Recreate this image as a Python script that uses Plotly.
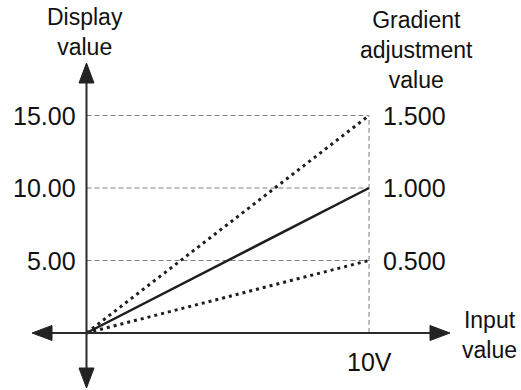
import plotly.graph_objects as go

# ---- data ----
input_max = 10
display_values = [15.0, 10.0, 5.0]
gradient_tick_labels = ["1.500", "1.000", "0.500"]
display_tick_labels = ["15.00", "10.00", "5.00"]
line_dashes = ["3px,4px", "solid", "3px,4px"]
line_widths = [3, 2.5, 3]
x_tick_label = "10V"

# ---- geometry ----
W, H = 521, 390
X0_PX, Y0_PX = 86.5, 333
PX_X = 28.25   # pixels per input unit
PX_Y = 14.5    # pixels per display unit
x_range = [-X0_PX / PX_X, (W - X0_PX) / PX_X]
y_range = [-(H - Y0_PX) / PX_Y, Y0_PX / PX_Y]

def dx(px):
    return px / PX_X

def dy(px):
    return px / PX_Y

FONT = "Liberation Sans, Arial, sans-serif"
TXT = "#111111"
AX = "#2a2a2a"

fig = go.Figure()

for v, d, w in zip(display_values, line_dashes, line_widths):
    fig.add_trace(go.Scatter(x=[0, input_max], y=[0, v], mode="lines",
                             line=dict(color="#1e1e1e", width=w, dash=d),
                             hoverinfo="skip"))

shapes = []
for v in display_values:
    shapes.append(dict(type="line", x0=0, x1=input_max, y0=v, y1=v,
                       line=dict(color="#808080", width=1, dash="5px,3px"), layer="below"))
shapes.append(dict(type="line", x0=input_max, x1=input_max, y0=0, y1=max(display_values),
                   line=dict(color="#808080", width=1, dash="5px,3px"), layer="below"))

# axis lines (reference pixel extents)
x_left_tip, x_right_tip = -dx(X0_PX - 32), dx(450 - X0_PX)
y_top_tip, y_bot_tip = dy(Y0_PX - 63), -dy(388 - Y0_PX)
shapes.append(dict(type="line", x0=x_left_tip + dx(10), x1=x_right_tip - dx(10), y0=0, y1=0,
                   line=dict(color=AX, width=2)))
shapes.append(dict(type="line", x0=0, x1=0, y0=y_bot_tip + dy(10), y1=y_top_tip - dy(10),
                   line=dict(color=AX, width=2)))

AL, AW = 20, 7.5
def tri(pts):
    return "M " + " L ".join(f"{x},{y}" for x, y in pts) + " Z"

arrows = [
    [(x_right_tip, 0), (x_right_tip - dx(AL), dy(AW)), (x_right_tip - dx(AL), -dy(AW))],
    [(x_left_tip, 0), (x_left_tip + dx(AL), dy(AW)), (x_left_tip + dx(AL), -dy(AW))],
    [(0, y_top_tip), (dx(AW), y_top_tip - dy(AL)), (-dx(AW), y_top_tip - dy(AL))],
    [(0, y_bot_tip), (dx(AW), y_bot_tip + dy(AL)), (-dx(AW), y_bot_tip + dy(AL))],
]
for a in arrows:
    shapes.append(dict(type="path", path=tri(a), fillcolor="#222222",
                       line=dict(color="#222222", width=1)))

ann = []
FS = 25
for v, lab in zip(display_values, display_tick_labels):
    ann.append(dict(x=0, y=v, text=lab, xanchor="right", yanchor="middle", xshift=-9,
                    showarrow=False, font=dict(family=FONT, size=FS, color=TXT)))
for v, lab in zip(display_values, gradient_tick_labels):
    ann.append(dict(x=input_max, y=v, text=lab, xanchor="left", yanchor="middle", xshift=12,
                    showarrow=False, font=dict(family=FONT, size=FS, color=TXT)))
ann.append(dict(x=input_max, y=0, text=x_tick_label, xanchor="center", yanchor="middle",
                yshift=-29, showarrow=False, font=dict(family=FONT, size=FS, color=TXT)))

def ptext(px, py, t, size=23):
    ann.append(dict(x=px / W, y=1 - py / H, xref="paper", yref="paper", text=t,
                    xanchor="center", yanchor="middle", showarrow=False, align="center",
                    font=dict(family=FONT, size=size, color=TXT)))

ptext(85, 32, "Display<br>value")
ptext(416, 50, "Gradient<br>adjustment<br>value")
ptext(489, 335, "Input<br>value")

fig.update_layout(
    width=W, height=H, margin=dict(l=0, r=0, t=0, b=0),
    paper_bgcolor="white", plot_bgcolor="white", showlegend=False,
    xaxis=dict(range=x_range, visible=False, fixedrange=True),
    yaxis=dict(range=y_range, visible=False, fixedrange=True),
    shapes=shapes, annotations=ann,
)

fig.write_html("out.html", config={"displayModeBar": False},
               post_script="document.body.style.margin='0';document.body.style.overflow='hidden';")
